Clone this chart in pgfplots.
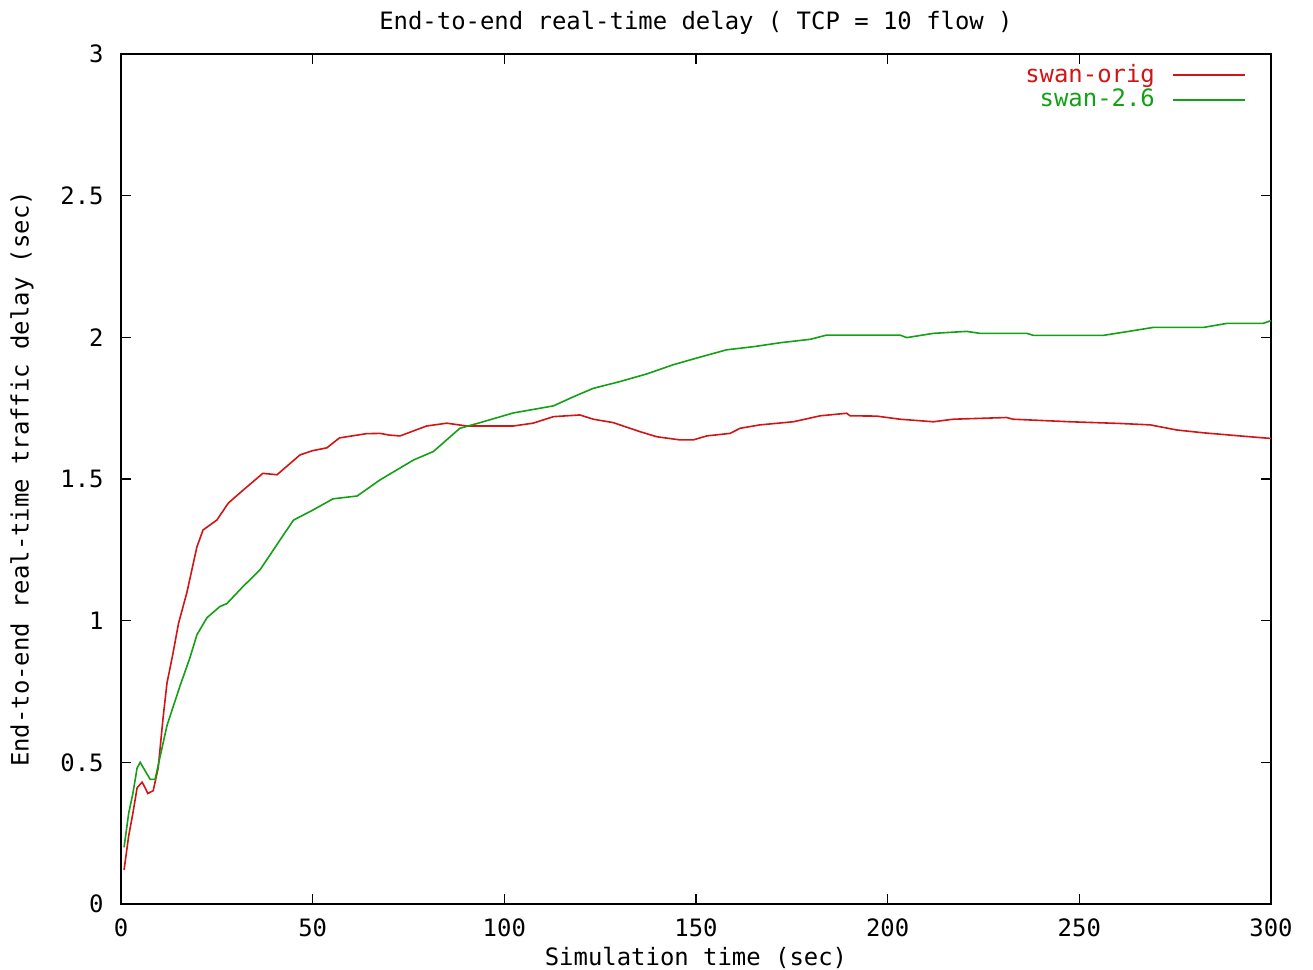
\documentclass[border=0pt]{standalone}
\usepackage{pgfplots}
\pgfplotsset{compat=1.18}
\usepackage{fontspec}
\setmainfont{DejaVu Sans Mono}
\definecolor{gred}{RGB}{210,20,20}
\definecolor{ggreen}{RGB}{20,160,20}
\begin{document}
\fontsize{12}{14}\selectfont
\begin{tikzpicture}
\useasboundingbox (-60.5bp,-33bp) rectangle (596bp,452bp);
\begin{axis}[
  scale only axis,
  width=575bp, height=425bp,
  xmin=0, xmax=300, ymin=0, ymax=3,
  xtick={0,50,...,300},
  ytick={0,0.5,1,1.5,2,2.5,3},
  tick align=inside,
  major tick length=5bp,
  axis line style={line width=0.8bp},
  every tick/.style={black, line width=0.8bp},
  /pgf/number format/assume math mode=true,
  tick label style={font=\fontsize{12}{14}\selectfont},
  yticklabel style={xshift=-4.5bp},
  xticklabel style={yshift=-3bp},
  every axis title shift=0pt,
  title={End-to-end real-time delay ( TCP = 10 flow )},
  title style={at={(axis description cs:0.5,1.037)}, anchor=center, font=\fontsize{12}{14}\selectfont},
  xlabel={Simulation time (sec)},
  xlabel style={at={(axis description cs:0.5,-0.0635)}, anchor=center, font=\fontsize{12}{14}\selectfont},
  ylabel={End-to-end real-time traffic delay (sec)},
  ylabel style={at={(axis description cs:-0.0861,0.5)}, anchor=center, rotate=0, font=\fontsize{12}{14}\selectfont},
  legend plot pos=right,
  legend cell align=right,
  legend image code/.code={\path[draw=none,fill=none] (0bp,-1bp) rectangle (43bp,1bp); \draw[#1] (7bp,0bp) -- (43bp,0bp);},
  legend style={at={(axis description cs:1,1)}, anchor=north east, xshift=-9.5bp, yshift=-1bp,
    draw=none, fill=none, font=\fontsize{12}{12}\selectfont, row sep=-2.5bp},
]
\addplot[gred, line width=0.8bp] coordinates {
(0.8,0.12) (2,0.24) (3.1,0.32) (4.2,0.41) (5.5,0.43) (6.3,0.41) (7,0.39) (8.4,0.40)
(9.7,0.48) (11,0.66) (12,0.78) (13.5,0.88) (15,0.99) (17.2,1.10) (19.8,1.26)
(21.4,1.32) (25,1.355) (28,1.415) (31.8,1.46) (37,1.52) (40.7,1.515) (46.7,1.585)
(50,1.60) (53.7,1.61) (57,1.645) (64,1.66) (67.6,1.661) (70,1.655) (72.8,1.652)
(79.7,1.687) (85,1.697) (90.2,1.687) (102.3,1.687) (107.5,1.697) (112.8,1.72)
(119.7,1.726) (123.2,1.711) (128.4,1.699) (135.4,1.667) (139.8,1.649) (145.8,1.638)
(149.3,1.638) (152.8,1.652) (158.9,1.661) (161.5,1.679) (166.7,1.691) (175.4,1.702)
(182.4,1.723) (189.3,1.732) (190.2,1.723) (197.1,1.722) (203.2,1.711) (211.9,1.702)
(217.1,1.711) (231,1.717) (232.7,1.711) (247.6,1.702) (260.6,1.696) (268.5,1.691)
(275.4,1.673) (282.4,1.663) (291.9,1.652) (300,1.643)
};
\addlegendentry{\textcolor{gred}{swan-orig}}
\addplot[ggreen, line width=0.8bp] coordinates {
(0.8,0.20) (2,0.32) (3.1,0.39) (4.2,0.48) (5,0.50) (6.3,0.47) (7.6,0.44) (8.9,0.44)
(10.2,0.52) (12,0.63) (15.4,0.77) (18,0.87) (19.8,0.95) (22.4,1.01) (25.8,1.05)
(27.6,1.06) (31.8,1.12) (36.3,1.18) (41.5,1.285) (45,1.355) (50,1.39) (55.3,1.43)
(61.6,1.44) (67.6,1.497) (76.3,1.567) (81.5,1.597) (88.4,1.679) (93.7,1.699)
(102.3,1.733) (112.8,1.758) (118,1.79) (123.2,1.82) (130.2,1.844) (137.2,1.871)
(144,1.903) (151,1.93) (158,1.956) (165,1.967) (172,1.981) (179.8,1.993) (184.1,2.008)
(203.2,2.008) (205,1.999) (211.9,2.014) (220.6,2.021) (224.1,2.014) (236.3,2.014)
(238,2.007) (256.3,2.007) (262.4,2.02) (269.3,2.035) (282.4,2.035) (288.4,2.049)
(297.9,2.049) (300,2.059)
};
\addlegendentry{\textcolor{ggreen}{swan-2.6}}
\end{axis}
\end{tikzpicture}
\end{document}
